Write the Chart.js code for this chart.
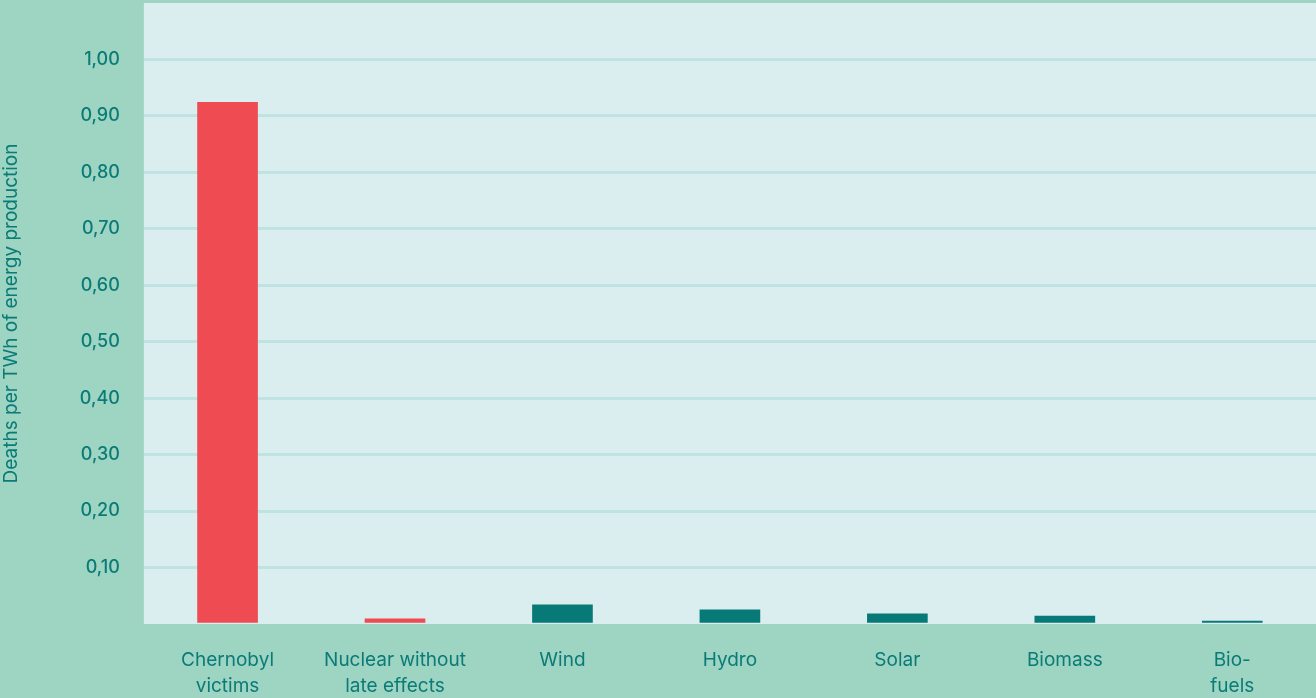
<!DOCTYPE html>
<html>
<head>
<meta charset="utf-8">
<script src="https://cdn.jsdelivr.net/npm/chart.js@4/dist/chart.umd.min.js"></script>
<style>
  html, body { margin: 0; padding: 0; background: #9dd4c2; }
  #wrap { width: 1316px; height: 698px; }
</style>
</head>
<body>
<div id="wrap"><canvas id="grafico"></canvas></div>
<script>
const labels = [
  ['Chernobyl', 'victims'],
  ['Nuclear without', 'late effects'],
  'Wind',
  'Hydro',
  'Solar',
  'Biomass',
  ['Bio-', 'fuels']
];
const deaths = [0.924, 0.009, 0.034, 0.025, 0.018, 0.014, 0.005];
const barColors = ['#ef4b52', '#ef4b52', '#077a78', '#077a78', '#077a78', '#077a78', '#077a78'];

const textColor = '#0b7b77';

// fills the plot area with the pale background
const plotBg = {
  id: 'plotBg',
  beforeDraw(chart) {
    const { ctx, chartArea } = chart;
    ctx.save();
    ctx.fillStyle = '#daeef0';
    ctx.fillRect(chartArea.left, chartArea.top, chartArea.right - chartArea.left, chartArea.bottom - chartArea.top);
    ctx.restore();
  }
};

const data = {
  labels,
  datasets: [{
    data: deaths,
    backgroundColor: barColors,
    borderWidth: 0,
    barThickness: 60
  }]
};

const config = {
  type: 'bar',
  data,
  plugins: [plotBg],
  options: {
    responsive: true,
    maintainAspectRatio: false,
    animation: false,
    layout: { padding: { top: 3, right: -9, bottom: 0, left: 0 } },
    scales: {
      x: {
        border: { display: false },
        grid: { display: false, drawTicks: false },
        afterFit: (s) => { s.height = 74; },
        ticks: {
          color: textColor,
          padding: 23,
          maxRotation: 0,
          font: { family: 'Inter', size: 19, lineHeight: 1.37 }
        }
      },
      y: {
        min: 0,
        max: 1.1,
        border: { display: false },
        afterFit: (s) => { s.paddingTop = 0; s.paddingBottom = 0; },
        grid: {
          drawTicks: false,
          lineWidth: 3,
          color: (c) => (c.tick && c.tick.value > 0.001 && c.tick.value < 1.05) ? '#bfe3e3' : 'rgba(0,0,0,0)'
        },
        ticks: {
          stepSize: 0.1,
          padding: 24,
          color: textColor,
          font: { family: 'Inter', size: 18, weight: '500' },
          callback: (v) => (v < 0.001 || v > 1.05) ? '' : v.toFixed(2).replace('.', ',')
        },
        title: {
          display: true,
          text: 'Deaths per TWh of energy production',
          color: textColor,
          padding: { top: 0, bottom: 33 },
          font: { family: 'Inter', size: 19 }
        }
      }
    },
    plugins: {
      legend: { display: false },
      title: { display: false },
      tooltip: { enabled: false }
    }
  }
};

const meuGrafico = new Chart(document.getElementById('grafico'), config);
</script>
</body>
</html>
